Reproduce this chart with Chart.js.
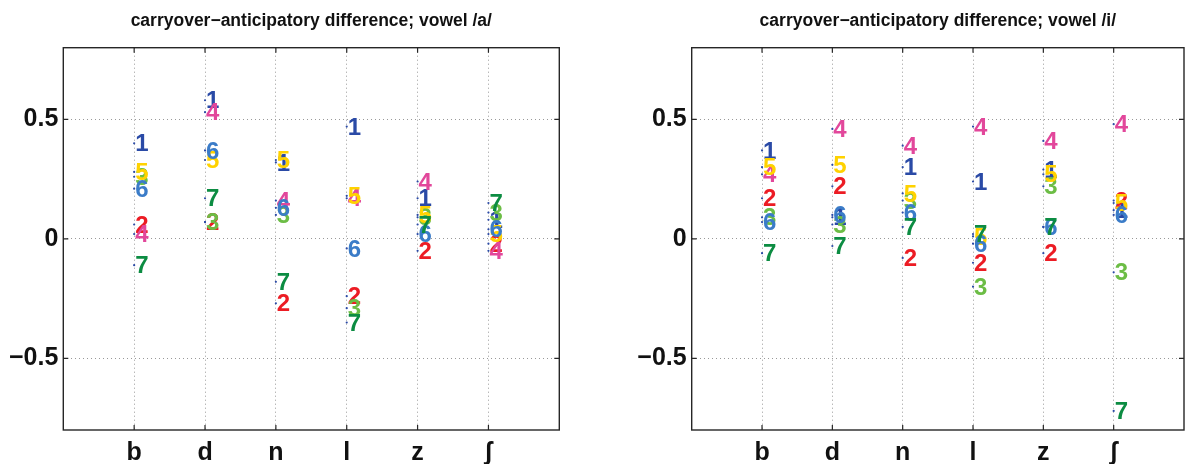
<!DOCTYPE html>
<html lang="en">
<head>
  <meta charset="UTF-8" />
  <title>Carryover-anticipatory difference</title>
  <script src="https://cdn.jsdelivr.net/npm/chart.js"></script>
  <style>
    body {
      margin: 0;
      background: #fff;
    }
    .wrap {
      display: flex;
      width: 1188px;
      height: 464px;
    }
    .panel {
      width: 594px;
      height: 464px;
    }
  </style>
</head>
<body>

<div class="wrap">
  <div class="panel"><canvas id="chartA" width="594" height="464"></canvas></div>
  <div class="panel"><canvas id="chartI" width="594" height="464"></canvas></div>
</div>

<script>
  const consonants = ["b", "d", "n", "l", "z", "ʃ"];
  const speakers = ["1", "2", "3", "4", "5", "6", "7"];
  const speakerColors = ["#2a4aa6", "#ec1c24", "#6cbd45", "#e2479b", "#ffd200", "#3b7cc8", "#0c8c42"];
  const yTicks = [-0.5, 0, 0.5];

  // one row per speaker, columns follow consonants
  const diffA = [
    [0.40, 0.58, 0.32, 0.47, 0.17, 0.08],
    [0.06, 0.07, -0.27, -0.24, -0.05, -0.02],
    [0.26, 0.07, 0.10, -0.29, 0.09, 0.11],
    [0.02, 0.53, 0.16, 0.17, 0.24, -0.05],
    [0.28, 0.33, 0.33, 0.18, 0.10, 0.02],
    [0.21, 0.37, 0.13, -0.04, 0.02, 0.04],
    [-0.11, 0.17, -0.18, -0.35, 0.06, 0.15]
  ];
  const diffI = [
    [0.37, 0.09, 0.30, 0.24, 0.29, 0.12],
    [0.17, 0.22, -0.08, -0.10, -0.06, 0.16],
    [0.09, 0.06, 0.16, -0.20, 0.22, -0.14],
    [0.27, 0.46, 0.39, 0.47, 0.41, 0.48],
    [0.30, 0.31, 0.19, 0.01, 0.27, 0.15],
    [0.07, 0.10, 0.11, -0.02, 0.05, 0.10],
    [-0.06, -0.03, 0.05, 0.02, 0.05, -0.72]
  ];

  const FONT = '"Liberation Sans", Arial, sans-serif';

  // box, inward ticks, title and the speaker numbers next to each dot
  const panelDecor = {
    id: "panelDecor",
    afterDatasetsDraw(chart) {
      const ctx = chart.ctx;
      ctx.save();
      ctx.font = "bold 24px " + FONT;
      ctx.textAlign = "left";
      ctx.textBaseline = "middle";
      chart.data.datasets.forEach((ds, k) => {
        ctx.fillStyle = ds.textColor;
        chart.getDatasetMeta(k).data.forEach(pt => {
          ctx.fillText(ds.label, pt.x + 1, pt.y + 1.5);
        });
      });
      ctx.restore();
    },
    afterDraw(chart) {
      const ctx = chart.ctx;
      const a = chart.chartArea;
      const xs = chart.scales.x, ys = chart.scales.y;
      ctx.save();
      ctx.strokeStyle = "#262626";
      ctx.lineWidth = 1.4;
      ctx.strokeRect(a.left, a.top, a.right - a.left, a.bottom - a.top);
      ctx.lineWidth = 1.2;
      ctx.beginPath();
      xs.ticks.forEach(t => {
        const x = xs.getPixelForValue(t.value);
        ctx.moveTo(x, a.top); ctx.lineTo(x, a.top + 5);
        ctx.moveTo(x, a.bottom); ctx.lineTo(x, a.bottom - 5);
      });
      ys.ticks.forEach(t => {
        const y = ys.getPixelForValue(t.value);
        ctx.moveTo(a.left, y); ctx.lineTo(a.left + 5, y);
        ctx.moveTo(a.right, y); ctx.lineTo(a.right - 5, y);
      });
      ctx.stroke();
      ctx.fillStyle = "#111";
      ctx.font = "bold 17.5px " + FONT;
      ctx.textAlign = "center";
      ctx.textBaseline = "middle";
      ctx.fillText(chart.options.panelTitle, (a.left + a.right) / 2, 21);
      ctx.restore();
    }
  };

  function makeChart(id, title, values, axisWidth, padRight) {
    const datasets = speakers.map((s, k) => ({
      label: s,
      data: values[k].map((v, j) => ({ x: j + 1, y: v })),
      textColor: speakerColors[k],
      pointRadius: 1.1,
      pointBorderWidth: 0,
      pointBackgroundColor: "#2b4aa6"
    }));

    return new Chart(document.getElementById(id), {
      type: "scatter",
      data: { datasets },
      plugins: [panelDecor],
      options: {
        panelTitle: title,
        responsive: false,
        animation: false,
        devicePixelRatio: 1,
        layout: { padding: { top: 47.7, right: padRight, left: 0, bottom: 0 } },
        plugins: { legend: { display: false }, tooltip: { enabled: false } },
        scales: {
          x: {
            type: "linear",
            min: 0,
            max: 7,
            afterBuildTicks: s => { s.ticks = consonants.map((c, i) => ({ value: i + 1 })); },
            afterFit: s => { s.height = 34; },
            ticks: {
              callback: v => consonants[v - 1],
              font: { family: FONT, size: 25, weight: "bold" },
              color: "#111",
              padding: 8,
              maxRotation: 0
            },
            grid: { color: "#999", lineWidth: 1, drawTicks: false },
            border: { display: false, dash: [1, 3] }
          },
          y: {
            min: -0.8,
            max: 0.8,
            afterBuildTicks: s => { s.ticks = yTicks.map(v => ({ value: v })); },
            afterFit: s => { s.width = axisWidth; },
            ticks: {
              callback: v => (v < 0 ? "−" + Math.abs(v) : String(v)),
              font: { family: FONT, size: 25, weight: "bold" },
              color: "#111",
              padding: 5
            },
            grid: { color: "#999", lineWidth: 1, drawTicks: false },
            border: { display: false, dash: [1, 3] }
          }
        }
      }
    });
  }

  makeChart("chartA", "carryover−anticipatory difference; vowel /a/", diffA, 63.3, 34.7);
  makeChart("chartI", "carryover−anticipatory difference; vowel /i/", diffI, 97.7, 1);
</script>

</body>
</html>
